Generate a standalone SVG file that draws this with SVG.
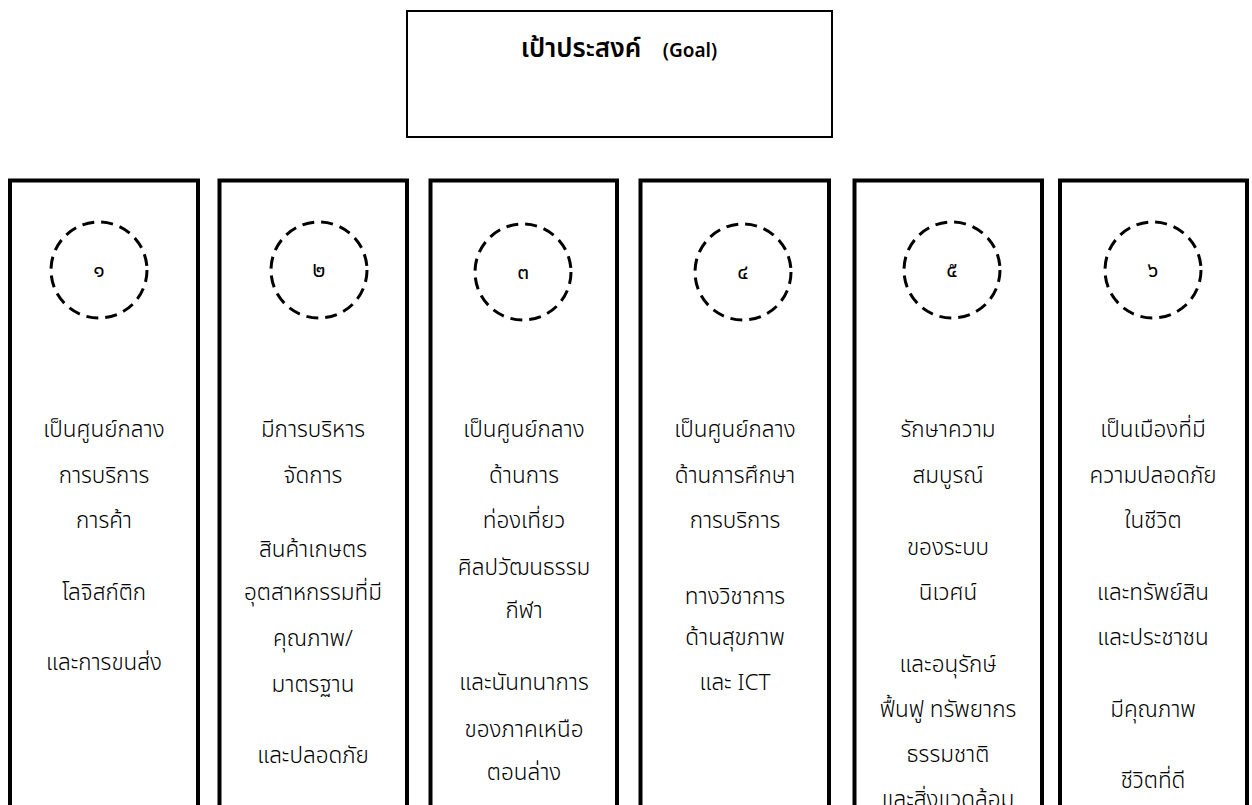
<svg xmlns="http://www.w3.org/2000/svg" width="1252" height="805" viewBox="0 0 1252 805">
<style>
.box{fill:#fff;stroke:#000;stroke-width:2}
.col{fill:#fff;stroke:#000;stroke-width:4}
.circ{fill:none;stroke:#000;stroke-width:3;stroke-dasharray:12 7}
text{font-family:"Noto Sans Thai","Noto Sans Thai UI","Leelawadee UI",Tahoma,"DejaVu Sans","Noto Sans",sans-serif;fill:#000;text-anchor:middle}
.t{font-size:22.5px;font-weight:300}
.n{font-size:21px;font-weight:400}
.g{font-size:26px;font-weight:600}
.g2{font-size:19px;font-weight:600}
</style>
<rect width="1252" height="805" fill="#fff"/>
<g id="goal">
<rect class="box" x="407" y="11" width="425" height="126"/>
<text x="581" y="57" class="g">เป้าประสงค์</text>
<text x="690" y="57" class="g2">(Goal)</text>
</g>
<g id="connectors"></g>
<g id="col1">
<rect class="col" x="10" y="180.5" width="188" height="640"/>
<circle class="circ" cx="99" cy="270" r="48"/>
<text x="99" y="277" class="n">๑</text>
<text class="t" x="104" y="437">เป็นศูนย์กลาง</text>
<text class="t" x="104" y="483">การบริการ</text>
<text class="t" x="104" y="528">การค้า</text>
<text class="t" x="104" y="600">โลจิสก์ติก</text>
<text class="t" x="104" y="670">และการขนส่ง</text>
</g>
<g id="col2">
<rect class="col" x="219.5" y="180.5" width="187.5" height="640"/>
<circle class="circ" cx="319" cy="270" r="48"/>
<text x="319" y="277" class="n">๒</text>
<text class="t" x="313" y="437">มีการบริหาร</text>
<text class="t" x="313" y="483">จัดการ</text>
<text class="t" x="313" y="557">สินค้าเกษตร</text>
<text class="t" x="313" y="600">อุตสาหกรรมที่มี</text>
<text class="t" x="313" y="646">คุณภาพ/</text>
<text class="t" x="313" y="692">มาตรฐาน</text>
<text class="t" x="313" y="763">และปลอดภัย</text>
</g>
<g id="col3">
<rect class="col" x="430.5" y="180.5" width="186.5" height="640"/>
<circle class="circ" cx="523" cy="272" r="48"/>
<text x="523" y="279" class="n">๓</text>
<text class="t" x="524" y="437">เป็นศูนย์กลาง</text>
<text class="t" x="524" y="483">ด้านการ</text>
<text class="t" x="524" y="528">ท่องเที่ยว</text>
<text class="t" x="524" y="575">ศิลปวัฒนธรรม</text>
<text class="t" x="524" y="618">กีฬา</text>
<text class="t" x="524" y="690">และนันทนาการ</text>
<text class="t" x="524" y="737">ของภาคเหนือ</text>
<text class="t" x="524" y="780">ตอนล่าง</text>
</g>
<g id="col4">
<rect class="col" x="640.5" y="180.5" width="188.5" height="640"/>
<circle class="circ" cx="743" cy="272" r="48"/>
<text x="743" y="279" class="n">๔</text>
<text class="t" x="735" y="437">เป็นศูนย์กลาง</text>
<text class="t" x="735" y="483">ด้านการศึกษา</text>
<text class="t" x="735" y="528">การบริการ</text>
<text class="t" x="735" y="604">ทางวิชาการ</text>
<text class="t" x="735" y="645">ด้านสุขภาพ</text>
<text class="t" x="735" y="690">และ ICT</text>
</g>
<g id="col5">
<rect class="col" x="854.5" y="180.5" width="187.5" height="640"/>
<circle class="circ" cx="952" cy="270" r="48"/>
<text x="952" y="277" class="n">๕</text>
<text class="t" x="948" y="437">รักษาความ</text>
<text class="t" x="948" y="483">สมบูรณ์</text>
<text class="t" x="948" y="555">ของระบบ</text>
<text class="t" x="948" y="600">นิเวศน์</text>
<text class="t" x="948" y="672">และอนุรักษ์</text>
<text class="t" x="948" y="717">ฟื้นฟู ทรัพยากร</text>
<text class="t" x="948" y="762">ธรรมชาติ</text>
<text class="t" x="948" y="807">และสิ่งแวดล้อม</text>
</g>
<g id="col6">
<rect class="col" x="1060" y="180.5" width="187" height="640"/>
<circle class="circ" cx="1153" cy="270" r="48"/>
<text x="1153" y="277" class="n">๖</text>
<text class="t" x="1153" y="437">เป็นเมืองที่มี</text>
<text class="t" x="1153" y="483">ความปลอดภัย</text>
<text class="t" x="1153" y="528">ในชีวิต</text>
<text class="t" x="1153" y="600">และทรัพย์สิน</text>
<text class="t" x="1153" y="645">และประชาชน</text>
<text class="t" x="1153" y="717">มีคุณภาพ</text>
<text class="t" x="1153" y="788">ชีวิตที่ดี</text>
</g>
</svg>
